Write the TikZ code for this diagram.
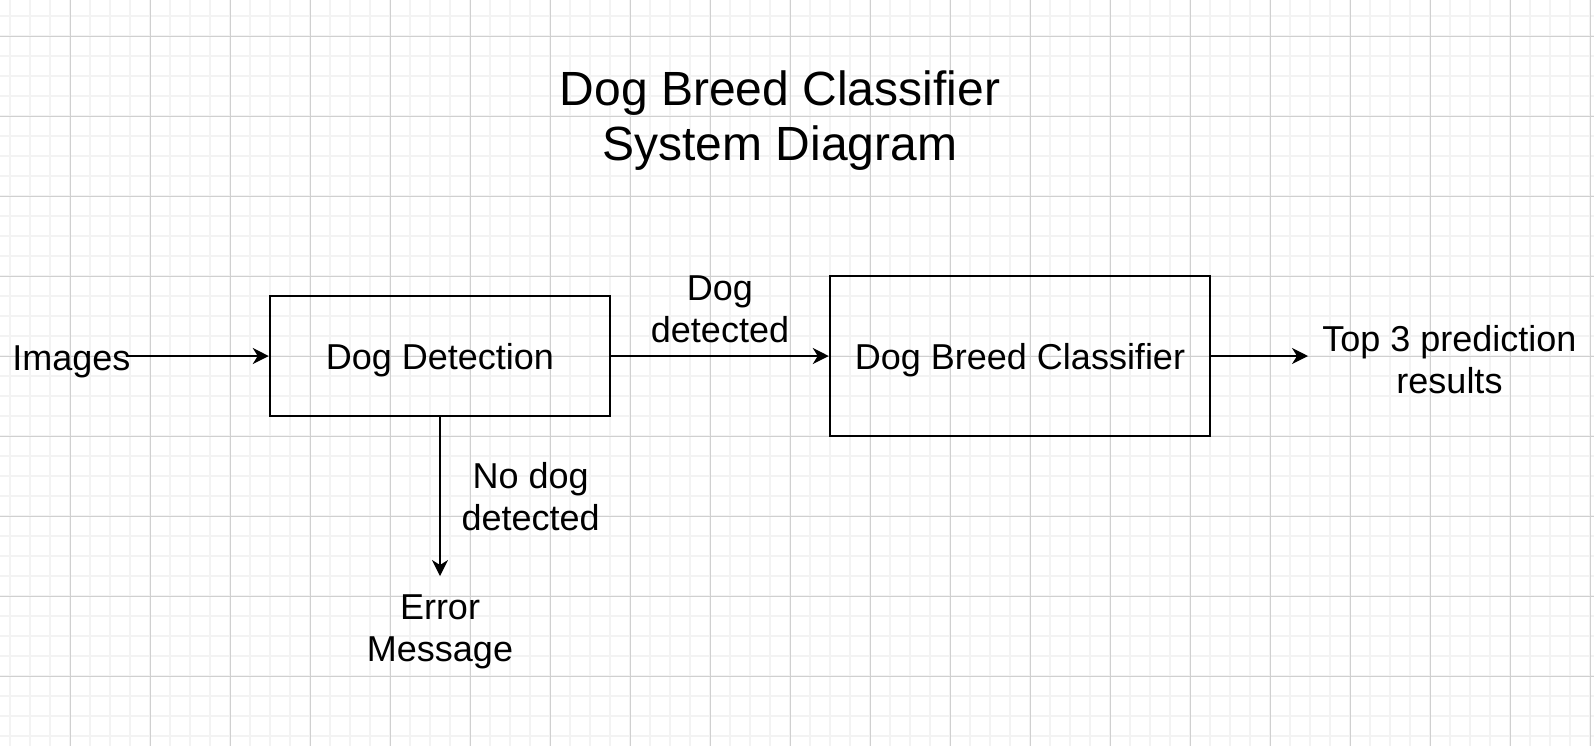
\documentclass[tikz,border=0pt]{standalone}
\usepackage{fontspec}
\setmainfont{Liberation Sans}
\usepackage{xcolor}
\usetikzlibrary{arrows.meta}

\definecolor{gridminor}{HTML}{F3F3F3}
\definecolor{gridmajor}{HTML}{D0D0D0}

\begin{document}
\begin{tikzpicture}[x=0.5pt, y=-0.5pt,
  txt/.style={align=center, font=\fontsize{18pt}{21pt}\selectfont},
  blockbox/.style={txt, draw=black, line width=1.25pt, inner sep=0pt, text depth=0pt},
  flow/.style={line width=0.85pt, -{Stealth[length=8pt, width=8pt, inset=2.5pt]}}]
\useasboundingbox (0,0) rectangle (1594,746);
\fill[white] (0,0) rectangle (1594,746);
\foreach \x in {10,30,...,1590} \draw[gridminor, line width=0.6pt] (\x,0) -- (\x,746);
\foreach \y in {16,36,...,736} \draw[gridminor, line width=0.6pt] (0,\y) -- (1594,\y);
\foreach \x in {70,150,...,1590} \draw[gridmajor, line width=0.5pt] (\x,0) -- (\x,746);
\foreach \y in {36,116,...,676} \draw[gridmajor, line width=0.5pt] (0,\y) -- (1594,\y);

\node[txt, font=\fontsize{24pt}{27.5pt}\selectfont] (title) at (780,121) {Dog Breed Classifier\\System Diagram};

\node[blockbox, minimum width=170pt, minimum height=60pt] (det) at (440,356) {Dog Detection};
\node[blockbox, minimum width=190pt, minimum height=80pt] (cls) at (1020,356) {Dog Breed Classifier};

\node[txt, anchor=west, inner sep=0pt] (img) at (12,362) {Images};
\node[txt, anchor=north, inner xsep=0pt, inner ysep=9.2pt] (err) at (440,576) {Error\\Message};
\node[txt, anchor=west, inner xsep=7pt, inner ysep=0pt] (res) at (1308,360) {Top 3 prediction\\results};

\draw[flow, shorten <=-2.5pt] (img.east |- det.west) -- (det.west);
\draw[flow] (det.east) -- node[txt, midway, above=3pt] (yes) {Dog\\detected} (cls.west);
\draw[flow] (det.south) -- node[txt, midway, right=7pt] (no) {No dog\\detected} (err.north);
\draw[flow] (cls.east) -- (cls.east -| res.west);
\end{tikzpicture}
\end{document}
